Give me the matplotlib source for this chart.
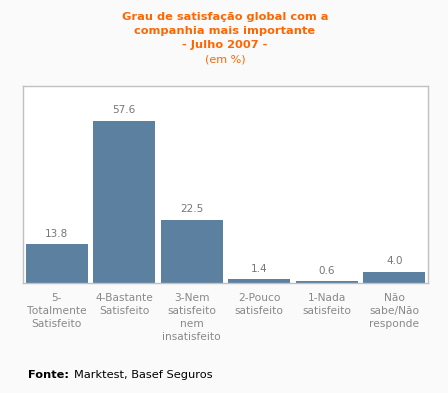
import matplotlib.pyplot as plt

categories = ["5-\nTotalmente\nSatisfeito", "4-Bastante\nSatisfeito",
              "3-Nem\nsatisfeito\nnem\ninsatisfeito", "2-Pouco\nsatisfeito",
              "1-Nada\nsatisfeito", "Não\nsabe/Não\nresponde"]
values = [13.8, 57.6, 22.5, 1.4, 0.6, 4.0]

bg = '#fafafa'
fig = plt.figure(figsize=(4.48, 3.93), dpi=100, facecolor=bg)
W, H = 448, 393
ax = fig.add_axes([23 / W, 1 - 283 / H, 405 / W, 197 / H])
ax.set_facecolor('white')

x = range(len(values))
ax.bar(x, values, width=0.92, color='#5b80a0')
ax.set_xlim(-0.5, 5.5)
ax.set_ylim(0, 70)

for i, v in enumerate(values):
    ax.annotate(f"{v:.1f}", (i, v), xytext=(0, 4), textcoords='offset points',
                ha='center', va='bottom', fontsize=7.5, color='#777777')

ax.set_xticks(list(x))
ax.set_xticklabels(categories, fontsize=7.7, color='#888888', linespacing=1.38, va='top')
ax.tick_params(axis='x', length=0, pad=7)
ax.set_yticks([])
for s in ax.spines.values():
    s.set_color('#c0c0c0')
    s.set_linewidth(1)

fig.text(225 / W, 1 - 12 / H, "Grau de satisfação global com a\ncompanhia mais importante\n- Julho 2007 -",
         ha='center', va='top', fontsize=8.2, fontweight='bold', color='#ff6600', linespacing=1.5)
fig.text(225 / W, 1 - 54 / H, "(em %)", ha='center', va='top', fontsize=8, color='#ff6600')

fig.text(28 / W, 1 - 375 / H, "Fonte:", ha='left', va='center', fontsize=8.2, fontweight='bold', color='black')
fig.text(74 / W, 1 - 375 / H, "Marktest, Basef Seguros", ha='left', va='center', fontsize=8.2, color='black')

fig.savefig('out.png', dpi=100, facecolor=bg)
